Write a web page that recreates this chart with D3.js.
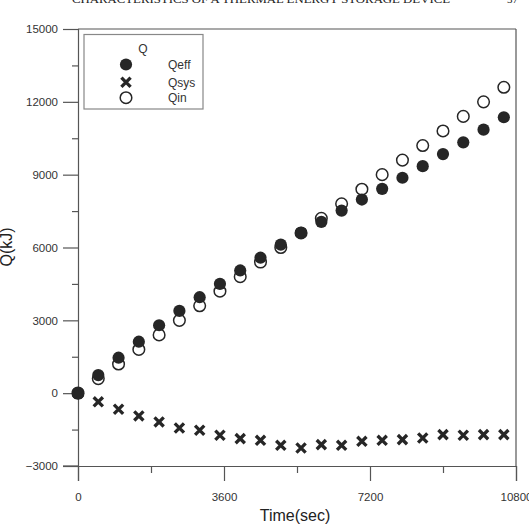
<!DOCTYPE html>
<html><head><meta charset="utf-8">
<script src="https://cdn.jsdelivr.net/npm/d3@7"></script>
<style>html,body{margin:0;padding:0;background:#fff;overflow:hidden}</style>
</head><body>
<script>
const times = [0,500,1000,1500,2000,2500,3000,3500,4000,4500,5000,5500,6000,6500,7000,7500,8000,8500,9000,9500,10000,10500];
const qeff = [0,744,1460,2120,2797,3388,3953,4504,5054,5579,6116,6600,7054,7521,7975,8417,8872,9351,9847,10331,10855,11364];
const qsys = [0,-358,-661,-937,-1185,-1433,-1529,-1735,-1873,-1942,-2149,-2260,-2120,-2149,-1983,-1942,-1913,-1847,-1707,-1735,-1707,-1707];
const qin = [0,600,1200,1800,2400,3000,3600,4200,4800,5400,6000,6600,7200,7800,8400,9000,9600,10200,10800,11400,12000,12600];
const xTicks = [0,3600,7200,10800];
const xMinor = [1800,5400,9000];
const yTicks = [-3000,0,3000,6000,9000,12000,15000];
const yMinor = [-1500,1500,4500,7500,10500,13500];
const legendTitle = "Q";
const seriesNames = ["Qeff","Qsys","Qin"];

const W=529,H=530;
const svg=d3.select("body").append("svg").attr("width",W).attr("height",H);
const x=d3.scaleLinear().domain([0,10800]).range([78,516]);
const y=d3.scaleLinear().domain([-3000,15000]).range([466,29]);
const ink="#262626", axisC="#555";
const font="Arial, 'Liberation Sans', sans-serif";

// header (cropped page text)
svg.append("text").attr("x",72).attr("y",3).attr("font-family","'Liberation Serif', 'Times New Roman', serif")
  .attr("font-size",11).attr("fill","#222").attr("textLength",378).attr("lengthAdjust","spacingAndGlyphs")
  .text("CHARACTERISTICS OF A THERMAL ENERGY STORAGE DEVICE");
svg.append("text").attr("x",507).attr("y",3).attr("font-family","'Liberation Serif', serif")
  .attr("font-size",11).attr("fill","#222").text("37");

// frame
svg.append("line").attr("x1",x(10800)).attr("x2",x(10800)).attr("y1",y(15000)).attr("y2",y(-3000)).attr("stroke",axisC).attr("stroke-width",1.2);
svg.append("line").attr("x1",x(0)).attr("x2",x(10800)).attr("y1",y(15000)).attr("y2",y(15000)).attr("stroke",axisC).attr("stroke-width",1.2);

// y axis
const yAxis=svg.append("g").attr("transform",`translate(${x(0)},0)`)
  .call(d3.axisLeft(y).tickValues(yTicks).tickSize(15).tickPadding(5).tickFormat(d3.format("d")));
const yMin=svg.append("g").attr("transform",`translate(${x(0)},0)`)
  .call(d3.axisLeft(y).tickValues(yMinor).tickSize(6).tickFormat(""));
// x axis
const xAxis=svg.append("g").attr("transform",`translate(0,${y(-3000)})`)
  .call(d3.axisBottom(x).tickValues(xTicks).tickSize(15).tickPadding(12).tickFormat(d3.format("d")));
const xMin=svg.append("g").attr("transform",`translate(0,${y(-3000)})`)
  .call(d3.axisBottom(x).tickValues(xMinor).tickSize(7).tickFormat(""));
[yAxis,yMin,xAxis,xMin].forEach(g=>{
  g.select(".domain").attr("stroke",axisC).attr("stroke-width",1.2);
  g.selectAll(".tick line").attr("stroke",axisC).attr("stroke-width",1.2);
  g.selectAll(".tick text").attr("font-family",font).attr("font-size",11.5).attr("fill","#333");
});
yMin.select(".domain").remove(); xMin.select(".domain").remove();
// extend x-axis line left to meet -3000 tick
svg.append("line").attr("x1",x(0)-15).attr("x2",x(0)).attr("y1",y(-3000)).attr("y2",y(-3000)).attr("stroke",axisC).attr("stroke-width",1.2);

// titles
svg.append("text").attr("x",295).attr("y",521).attr("text-anchor","middle").attr("font-family",font)
  .attr("font-size",16).attr("fill","#222").text("Time(sec)");
svg.append("text").attr("transform","translate(12,247) rotate(-90)").attr("text-anchor","middle").attr("font-family",font)
  .attr("font-size",16).attr("fill","#222").text("Q(kJ)");

// markers
const R=5.8, S=4.6;
function xMark(g,cx,cy){
  g.append("path").attr("d",`M${cx-S},${cy-S}L${cx+S},${cy+S}M${cx-S},${cy+S}L${cx+S},${cy-S}`)
   .attr("stroke",ink).attr("stroke-width",3.3).attr("fill","none");
}
const plot=svg.append("g");
plot.selectAll(".qin").data(times).join("circle").attr("cx",d=>x(d)).attr("cy",(d,i)=>y(qin[i]))
  .attr("r",R).attr("fill","#fff").attr("stroke",ink).attr("stroke-width",1.5);
plot.selectAll(".qeff").data(times).join("circle").attr("cx",d=>x(d)).attr("cy",(d,i)=>y(qeff[i]))
  .attr("r",R+0.3).attr("fill",ink);
times.forEach((t,i)=>xMark(plot,x(t),y(qsys[i])));

// legend
const lg=svg.append("g");
lg.append("rect").attr("x",84).attr("y",34.5).attr("width",119).attr("height",74.5).attr("fill","#fff").attr("stroke","#888").attr("stroke-width",1.2);
lg.append("text").attr("x",143).attr("y",53).attr("text-anchor","middle").attr("font-family",font).attr("font-size",12).attr("fill","#333").text(legendTitle);
const ly=[64.5,82.3,97.7];
lg.append("circle").attr("cx",126).attr("cy",ly[0]).attr("r",R+0.3).attr("fill",ink);
xMark(lg,126,ly[1]);
lg.append("circle").attr("cx",126).attr("cy",ly[2]).attr("r",R).attr("fill","#fff").attr("stroke",ink).attr("stroke-width",1.5);
seriesNames.forEach((n,i)=>lg.append("text").attr("x",168).attr("y",ly[i]+4.5).attr("font-family",font).attr("font-size",12).attr("fill","#333").text(n));
</script>
</body></html>
